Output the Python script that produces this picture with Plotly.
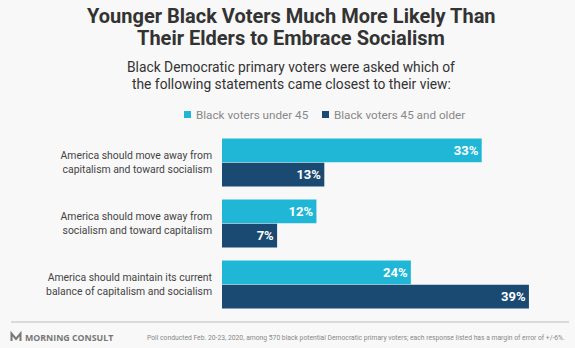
import plotly.graph_objects as go

# Survey data
statements = [
    "America should move away from<br>capitalism and toward socialism",
    "America should move away from<br>socialism and toward capitalism",
    "America should maintain its current<br>balance of capitalism and socialism",
]
series_names = ["Black voters under 45", "Black voters 45 and older"]
under_45 = [33, 12, 24]
over_45 = [13, 7, 39]
colors = ["#20b7d7", "#1a4a72"]

# Canvas and plot-area geometry (pixels)
W, H = 575, 348
L, R, T, B = 222, 15, 132, 33
PW, PH = W - L - R, H - T - B
BG = "#f8f8f8"
FONT = "Roboto"


def px(x):
    return (x - L) / PW


def py(y):
    return (H - B - y) / PH


fig = go.Figure()
for name, vals, col in zip(series_names, [under_45, over_45], colors):
    fig.add_trace(go.Bar(
        name=name, y=statements, x=vals, orientation="h",
        marker=dict(color=col, line=dict(width=0)),
        texttemplate="<b>%{x}%</b>", textposition="inside",
        insidetextanchor="end", textangle=0,
        textfont=dict(family=FONT, size=13, color="white"),
        hoverinfo="skip", showlegend=False,
    ))

annotations = [
    dict(text="<b>Younger Black Voters Much More Likely Than</b>", x=px(291), y=py(16),
         font=dict(size=20, color="#333333", family=FONT)),
    dict(text="<b>Their Elders to Embrace Socialism</b>", x=px(291), y=py(38),
         font=dict(size=20, color="#333333", family=FONT)),
    dict(text="Black Democratic primary voters were asked which of", x=px(291), y=py(67.5),
         font=dict(size=13.8, color="#333333", family=FONT)),
    dict(text="the following statements came closest to their view:", x=px(291), y=py(83.5),
         font=dict(size=13.8, color="#333333", family=FONT)),
]
for a in annotations:
    a.update(xref="paper", yref="paper", showarrow=False, xanchor="center", yanchor="middle")

# Legend drawn as squares + labels
legend_x = [184, 322]
shapes = []
for lx, name, col in zip(legend_x, series_names, colors):
    shapes.append(dict(type="rect", xref="paper", yref="paper",
                       x0=px(lx), x1=px(lx + 7), y0=py(111), y1=py(118),
                       fillcolor=col, line=dict(width=0)))
    annotations.append(dict(text=name, x=px(lx + 10), y=py(114.5), xref="paper", yref="paper",
                            showarrow=False, xanchor="left", yanchor="middle",
                            font=dict(size=11.7, color="#888888", family=FONT)))

# Footer rule, logo and source note
shapes.append(dict(type="line", xref="paper", yref="paper",
                   x0=px(11), x1=px(569), y0=py(322), y1=py(322),
                   line=dict(color="#bbbbbb", width=1)))
shapes.append(dict(type="path", xref="paper", yref="paper",
                   path="M {},{} L {},{} L {},{} L {},{} L {},{}".format(
                       px(11.5), py(341), px(11.5), py(333.5), px(16), py(339),
                       px(20.5), py(333.5), px(20.5), py(341)),
                   line=dict(color="#777777", width=2)))
annotations.append(dict(text="<b>MORNING CONSULT</b>", x=px(23), y=py(337.5), xref="paper", yref="paper",
                        showarrow=False, xanchor="left", yanchor="middle",
                        font=dict(size=8.8, color="#777777", family="Open Sans")))
annotations.append(dict(
    text="Poll conducted Feb. 20-23, 2020, among 570 black potential Democratic primary voters; "
         "each response listed has a margin of error of +/-6%.",
    x=px(567), y=py(337.5), xref="paper", yref="paper", showarrow=False,
    xanchor="right", yanchor="middle",
    font=dict(size=6.75, color="#888888", family=FONT)))

fig.update_layout(
    width=W, height=H,
    margin=dict(l=L, r=R, t=T, b=B, autoexpand=False),
    paper_bgcolor=BG, plot_bgcolor=BG,
    barmode="group", bargap=0.197, bargroupgap=0.03,
    xaxis=dict(range=[0, PW / 7.87], visible=False, fixedrange=True),
    yaxis=dict(autorange="reversed", showgrid=False, zeroline=False, showline=False,
               ticks="", ticklabelstandoff=9,
               tickfont=dict(size=10.4, color="#444444", family=FONT)),
    annotations=annotations, shapes=shapes,
    uniformtext=dict(minsize=8, mode="show"),
)

fig.write_html("out.html")
